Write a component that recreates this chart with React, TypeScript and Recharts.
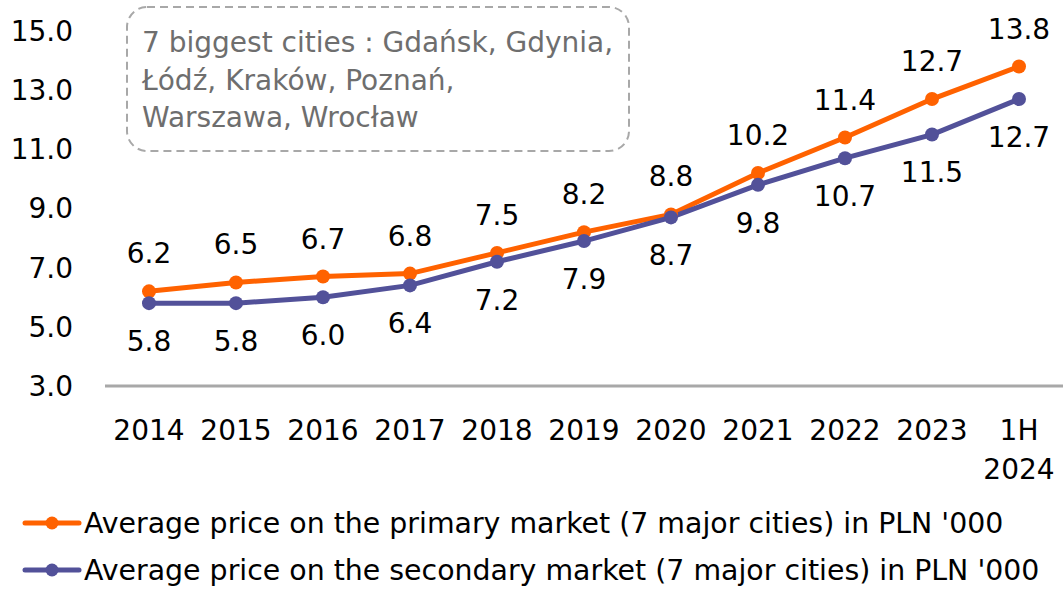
import { LineChart, Line, XAxis, YAxis, LabelList, Legend } from 'recharts';

const years = ['2014', '2015', '2016', '2017', '2018', '2019', '2020', '2021', '2022', '2023', '1H 2024'];
const primary = [6.2, 6.5, 6.7, 6.8, 7.5, 8.2, 8.8, 10.2, 11.4, 12.7, 13.8];
const secondary = [5.8, 5.8, 6.0, 6.4, 7.2, 7.9, 8.7, 9.8, 10.7, 11.5, 12.7];
const yTicks = [3, 5, 7, 9, 11, 13, 15];
const seriesNames = [
  "Average price on the primary market (7 major cities) in PLN '000",
  "Average price on the secondary market (7 major cities) in PLN '000",
];
const cityNote = ['7 biggest cities : Gdańsk, Gdynia,', 'Łódź, Kraków, Poznań,', 'Warszawa, Wrocław'];

const ORANGE = '#FF6200';
const PURPLE = '#525199';
const GREY = '#A8A8A8';
const FONT = '"DejaVu Sans", sans-serif';

const data = years.map((year, i) => ({ year, primary: primary[i], secondary: secondary[i] }));

function YearTick(props: any) {
  const { x, y, payload } = props;
  const parts = String(payload.value).split(' ');
  return (
    <text x={x} y={y} textAnchor="middle" fontSize={28} fill="#000">
      {parts.map((p, i) => (
        <tspan key={i} x={x} dy={i === 0 ? 46 : 39}>
          {p}
        </tspan>
      ))}
    </text>
  );
}

function LegendBox() {
  const colors = [ORANGE, PURPLE];
  const rows = [43, 90];
  return (
    <svg width={1063} height={100} style={{ display: 'block' }}>
      {seriesNames.map((name, i) => (
        <g key={name}>
          <line x1={25} x2={79} y1={rows[i] - 10} y2={rows[i] - 10} stroke={colors[i]} strokeWidth={5} strokeLinecap="round" />
          <circle cx={52} cy={rows[i] - 10} r={6.5} fill={colors[i]} />
          <text x={84} y={rows[i]} fontSize={28.4} fill="#000" fontFamily={FONT}>
            {name}
          </text>
        </g>
      ))}
    </svg>
  );
}

export default function App() {
  return (
    <div style={{ position: 'absolute', left: 0, top: 0, width: 1063, height: 590, background: '#fff', fontFamily: FONT }}>
      <LineChart width={1063} height={590} data={data} margin={{ top: 31, right: 0, left: 0, bottom: 0 }}>
        <XAxis
          dataKey="year"
          height={204}
          padding={{ left: 44, right: 44 }}
          tickLine={false}
          axisLine={{ stroke: GREY, strokeWidth: 3 }}
          tick={<YearTick />}
          interval={0}
        />
        <YAxis
          domain={[3, 15]}
          ticks={yTicks}
          width={105}
          axisLine={false}
          tickLine={false}
          tickMargin={26}
          tickFormatter={(v: number) => v.toFixed(1)}
          tick={{ fill: '#000', fontSize: 28 }}
        />
        <Line
          dataKey="primary"
          stroke={ORANGE}
          strokeWidth={5}
          dot={{ r: 7, fill: ORANGE, stroke: ORANGE, strokeWidth: 0 }}
          activeDot={false}
          isAnimationActive={false}
        >
          <LabelList
            dataKey="primary"
            position="top"
            offset={28}
            fill="#000"
            fontSize={28}
            formatter={(v: any) => Number(v).toFixed(1)}
          />
        </Line>
        <Line
          dataKey="secondary"
          stroke={PURPLE}
          strokeWidth={5}
          dot={{ r: 7, fill: PURPLE, stroke: PURPLE, strokeWidth: 0 }}
          activeDot={false}
          isAnimationActive={false}
        >
          <LabelList
            dataKey="secondary"
            position="bottom"
            offset={28}
            fill="#000"
            fontSize={28}
            formatter={(v: any) => Number(v).toFixed(1)}
          />
        </Line>
        <Legend
          layout="vertical"
          align="center"
          verticalAlign="middle"
          wrapperStyle={{ top: 490, left: 0, width: 1063, height: 100 }}
          content={() => <LegendBox />}
        />
      </LineChart>
      <svg width={1063} height={160} style={{ position: 'absolute', left: 0, top: 0, pointerEvents: 'none' }}>
        <rect x={127} y={7} width={502} height={144} rx={20} ry={20} fill="none" stroke={GREY} strokeWidth={2} strokeDasharray="8 5" />
        {cityNote.map((line, i) => (
          <text key={line} x={142} y={52 + i * 37.5} fontSize={28} fill="#6E6E6E" fontFamily={FONT}>
            {line}
          </text>
        ))}
      </svg>
    </div>
  );
}
